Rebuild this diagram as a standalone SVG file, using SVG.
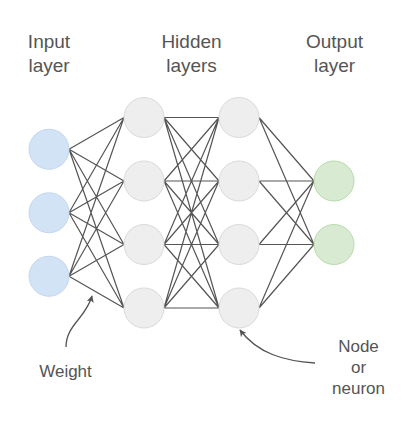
<svg xmlns="http://www.w3.org/2000/svg" width="405" height="423" viewBox="0 0 405 423">
<defs>
<style>
.t{font-family:"Liberation Sans",Arial,sans-serif;fill:#555;text-anchor:middle}
.h{font-size:19px}
.s{font-size:17px}
.in{fill:#d3e3f6;stroke:#c3d7f0;stroke-width:1}
.hid{fill:#eeeeee;stroke:#dadada;stroke-width:1}
.out{fill:#d9ead3;stroke:#b7dca9;stroke-width:1}
.e{stroke:#555;stroke-width:1.2;fill:none}
.a{stroke:#555;stroke-width:1.3;fill:none}
</style>
<marker id="ah" viewBox="0 0 10 10" refX="9" refY="5" markerWidth="7" markerHeight="7" orient="auto" markerUnits="userSpaceOnUse">
<path d="M0,0 L10,5 L0,10 L2.5,5 Z" fill="#555"/>
</marker>
</defs>
<rect width="405" height="423" fill="#fff"/>
<g id="titles">
<text class="t h" x="49" y="48">Input</text>
<text class="t h" x="49" y="72">layer</text>
<text class="t h" x="191.5" y="48">Hidden</text>
<text class="t h" x="191.5" y="72">layers</text>
<text class="t h" x="334.5" y="48">Output</text>
<text class="t h" x="334.5" y="72">layer</text>
</g>
<g id="connectors">
<!-- input -> hidden1 -->
<path class="e" d="M69,149.25 L124,117.5 M69,149.25 L124,181 M69,149.25 L124,244.5 M69,149.25 L124,308
M69,212.75 L124,117.5 M69,212.75 L124,181 M69,212.75 L124,244.5 M69,212.75 L124,308
M69,276.25 L124,117.5 M69,276.25 L124,181 M69,276.25 L124,244.5 M69,276.25 L124,308"/>
<!-- hidden1 -> hidden2 -->
<path class="e" d="M164,117.5 L219,117.5 M164,117.5 L219,181 M164,117.5 L219,244.5 M164,117.5 L219,308
M164,181 L219,117.5 M164,181 L219,181 M164,181 L219,244.5 M164,181 L219,308
M164,244.5 L219,117.5 M164,244.5 L219,181 M164,244.5 L219,244.5 M164,244.5 L219,308
M164,308 L219,117.5 M164,308 L219,181 M164,308 L219,244.5 M164,308 L219,308"/>
<!-- hidden2 -> output -->
<path class="e" d="M259,117.5 L314,181 M259,117.5 L314,244.5
M259,181 L314,181 M259,181 L314,244.5
M259,244.5 L314,181 M259,244.5 L314,244.5
M259,308 L314,181 M259,308 L314,244.5"/>
<!-- annotation arrows -->
<path class="a" marker-end="url(#ah)" d="M66,347 C66,325 86,318 92,296"/>
<path class="a" marker-end="url(#ah)" d="M315,363 C285,361 258,354 240,330"/>
</g>
<g id="input-1"><circle class="in" cx="49" cy="149.25" r="20"/></g>
<g id="input-2"><circle class="in" cx="49" cy="212.75" r="20"/></g>
<g id="input-3"><circle class="in" cx="49" cy="276.25" r="20"/></g>
<g id="hidden1-1"><circle class="hid" cx="144" cy="117.5" r="20"/></g>
<g id="hidden1-2"><circle class="hid" cx="144" cy="181" r="20"/></g>
<g id="hidden1-3"><circle class="hid" cx="144" cy="244.5" r="20"/></g>
<g id="hidden1-4"><circle class="hid" cx="144" cy="308" r="20"/></g>
<g id="hidden2-1"><circle class="hid" cx="239" cy="117.5" r="20"/></g>
<g id="hidden2-2"><circle class="hid" cx="239" cy="181" r="20"/></g>
<g id="hidden2-3"><circle class="hid" cx="239" cy="244.5" r="20"/></g>
<g id="hidden2-4"><circle class="hid" cx="239" cy="308" r="20"/></g>
<g id="output-1"><circle class="out" cx="334" cy="181" r="20"/></g>
<g id="output-2"><circle class="out" cx="334" cy="244.5" r="20"/></g>
<g id="labels">
<text class="t s" x="65.5" y="377">Weight</text>
<text class="t s" x="358.5" y="352">Node</text>
<text class="t s" x="358.5" y="373">or</text>
<text class="t s" x="358.5" y="394">neuron</text>
</g>
</svg>
